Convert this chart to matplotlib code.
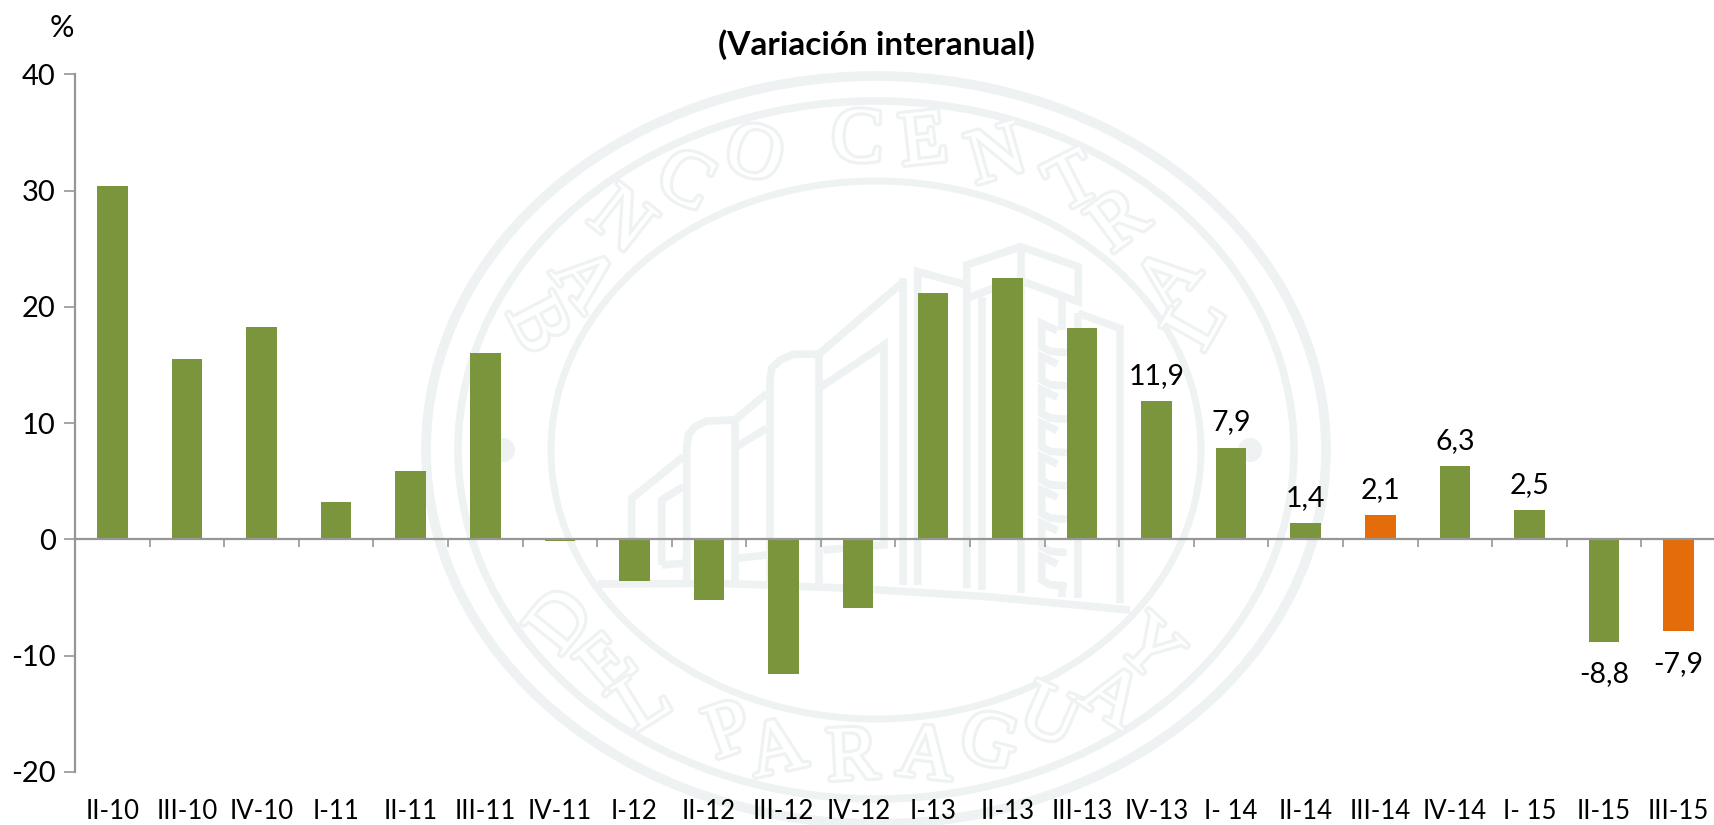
import numpy as np
import matplotlib
matplotlib.use('Agg')
import matplotlib.pyplot as plt
from matplotlib.patches import Ellipse
import matplotlib.patheffects as pe

plt.rcParams['font.family'] = ['Lato', 'DejaVu Sans']
plt.rcParams['axes.unicode_minus'] = False

# datos
categories = ['II-10', 'III-10', 'IV-10', 'I-11', 'II-11', 'III-11', 'IV-11',
              'I-12', 'II-12', 'III-12', 'IV-12', 'I-13', 'II-13', 'III-13',
              'IV-13', 'I- 14', 'II-14', 'III-14', 'IV-14', 'I- 15', 'II-15', 'III-15']
values = [30.4, 15.5, 18.3, 3.2, 5.9, 16.0, -0.1, -3.6, -5.2, -11.6, -5.9,
          21.2, 22.5, 18.2, 11.9, 7.9, 1.4, 2.1, 6.3, 2.5, -8.8, -7.9]
estimated = ['III-14', 'III-15']
labelled = ['IV-13', 'I- 14', 'II-14', 'III-14', 'IV-14', 'I- 15', 'II-15', 'III-15']
y_ticks = [40, 30, 20, 10, 0, -10, -20]
title = '(Variación interanual)'
unit = '%'

GREEN = '#7a953c'
ORANGE = '#e46c0a'
GREY = '#969696'
PALE = '#eef2f2'

W, H = 1715, 825
fig = plt.figure(figsize=(W / 100, H / 100), dpi=100)


# sello de fondo, dibujado en pixeles de la figura
bg = fig.add_axes([0, 0, 1, 1], zorder=0)
bg.set_xlim(0, W)
bg.set_ylim(H, 0)
bg.axis('off')

CX, CY = 876, 450
for rx, ry, lw in [(450, 374, 7), (418, 349, 5.5), (325, 269, 5)]:
    bg.add_patch(Ellipse((CX, CY), 2 * rx, 2 * ry, fill=False, ec=PALE, lw=lw))
bg.add_patch(Ellipse((503, CY), 24, 24, fc=PALE, ec='none'))
bg.add_patch(Ellipse((1250, CY), 24, 24, fc=PALE, ec='none'))

seal_top = [('B', 210, 545), ('A', 295, 455), ('N', 365, 335), ('C', 483, 253), ('O', 610, 200),
            ('C', 800, 168), ('E', 922, 172), ('N', 1057, 202), ('T', 1197, 257), ('R', 1283, 335),
            ('A', 1375, 455), ('L', 1425, 540)]
seal_bottom = [('D', 262, 1155), ('E', 347, 1245), ('L', 412, 1320), ('P', 567, 1382), ('A', 655, 1420),
               ('R', 792, 1435), ('A', 925, 1432), ('G', 1040, 1405), ('U', 1150, 1352), ('A', 1262, 1312),
               ('Y', 1330, 1212)]


def seal_text(letters, flip):
    for ch, zx, zy in letters:
        px = 420 + zx / 1.83
        py = 60 + zy / 2.05
        # giro segun la normal de la elipse en ese punto
        t = np.arctan2((CY - py) / 309, (px - CX) / 372)
        rot = np.degrees(np.arctan2(309 * np.cos(t), 372 * np.sin(t)))
        if flip:
            rot = rot + 180
        bg.text(px, py, ch, family='Liberation Serif', fontsize=56, color='white',
                rotation=rot, rotation_mode='anchor', ha='center', va='center',
                path_effects=[pe.withStroke(linewidth=4.5, foreground=PALE)])


seal_text(seal_top, False)
seal_text(seal_bottom, True)


def building(points):
    xs = [620 + p[0] / 3 for p in points]
    ys = [230 + p[1] / 3 for p in points]
    bg.plot(xs, ys, color=PALE, lw=5.5, solid_joinstyle='miter', solid_capstyle='butt')


building([(35, 1060), (35, 805), (190, 680)])
building([(125, 1005), (125, 810), (190, 770)])
building([(125, 1005), (190, 1000)])
building([(200, 1060), (200, 650), (205, 615), (225, 590), (260, 573), (345, 570), (345, 1060)])
building([(345, 570), (440, 490)])
building([(350, 650), (440, 595)])
building([(350, 985), (440, 975)])
building([(450, 1060), (450, 450), (455, 415), (480, 390), (520, 373), (597, 372), (597, 1060)])
building([(597, 372), (850, 155)])
building([(597, 475), (792, 345), (792, 945), (610, 960)])
building([(848, 145), (848, 1065)])
building([(893, 1065), (893, 125), (1040, 165)])
building([(1040, 1075), (1040, 105), (1202, 50), (1375, 110), (1375, 215), (1210, 155)])
building([(1040, 205), (1120, 175)])
building([(1202, 50), (1202, 1090)])
building([(1087, 200), (1087, 1080)])
building([(1325, 205), (1325, 300)])
building([(1325, 1060), (1325, 1100)])
building([(1375, 250), (1500, 295), (1500, 1120)])
building([(1375, 250), (1375, 1105)])
for y0 in range(280, 1000, 100):
    building([(1312, y0 + 22), (1265, y0), (1265, y0 + 70), (1290, y0 + 84), (1340, y0 + 88)])
building([(-66, 1062), (300, 1060), (700, 1075), (1100, 1100), (1530, 1140)])


# grafico principal
ax = fig.add_axes([75 / W, 1 - 772 / H, 1641 / W, (772 - 74.4) / H], zorder=1)
ax.patch.set_alpha(0)

x = np.arange(len(categories)) + 0.5
colors = [ORANGE if c in estimated else GREEN for c in categories]
bars = ax.bar(x, values, width=0.41, color=colors, zorder=2)

for rect, cat, val in zip(bars, categories, values):
    if cat not in labelled:
        continue
    txt = f'{val:.1f}'.replace('.', ',')
    ax.annotate(txt, (rect.get_x() + rect.get_width() / 2, val), xytext=(0, 9 if val > 0 else -14),
                textcoords='offset points', ha='center', va='bottom' if val > 0 else 'top',
                fontsize=20.5, color='black')

ax.set_xlim(0, len(categories))
ax.set_ylim(-20, 40)
ax.set_yticks(y_ticks)
ax.set_xticks(x, categories)
ax.set_xticks(np.arange(len(categories) + 1), minor=True)

ax.spines['top'].set_visible(False)
ax.spines['right'].set_visible(False)
ax.spines['left'].set_color(GREY)
ax.spines['left'].set_linewidth(1.6)
ax.spines['bottom'].set_position(('data', 0))
ax.spines['bottom'].set_color(GREY)
ax.spines['bottom'].set_linewidth(1.6)
ax.spines['bottom'].set_zorder(3)

ax.tick_params(axis='y', length=8, width=1.2, color=GREY, labelsize=21, pad=6)
ax.tick_params(axis='x', which='major', length=0, labelsize=18.5, pad=187)
ax.tick_params(axis='x', which='minor', length=6, width=1.2, color=GREY)

fig.text(876 / W, 1 - 45 / H, title, ha='center', va='center', fontsize=24, fontweight='bold')
fig.text(62 / W, 1 - 28 / H, unit, ha='center', va='center', fontsize=22)

fig.savefig('out.png', dpi=100)
